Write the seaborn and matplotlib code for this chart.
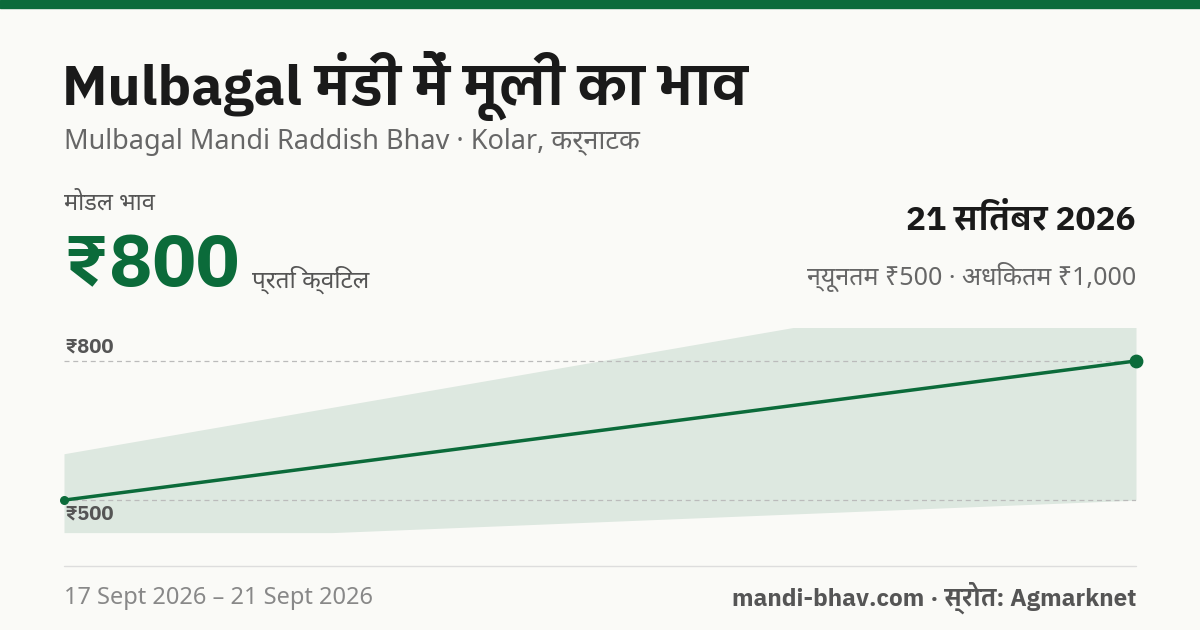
import matplotlib
matplotlib.use("Agg")
import matplotlib.pyplot as plt
import seaborn as sns
import pandas as pd
from matplotlib import font_manager as fm

sns.set_theme(style="white")
avail = {f.name for f in fm.fontManager.ttflist}
fams = [f for f in ["Noto Sans", "Noto Sans Devanagari", "IBM Plex Sans Devanagari", "DejaVu Sans"] if f in avail]
plt.rcParams['font.family'] = fams
BOLD = ["IBM Plex Sans Devanagari", "DejaVu Sans"]

line_days = [17, 21]
line_vals = [500, 800]
band_days = [17, 18, 21]
band_min = [430, 430, 500]
band_max = [600, 700, 1000]
tick_vals = [500, 800]
tick_labels = ["₹500", "₹800"]

GREEN = "#0b6b3a"
BG = "#fafaf7"
fig = plt.figure(figsize=(12, 6.3), dpi=100, facecolor=BG)
fig.add_artist(plt.Rectangle((0, 1 - 8/630), 1, 8/630, color=GREEN, transform=fig.transFigure))

ax = fig.add_axes([64/1200, 1 - 534/630, 1072/1200, 206/630])
ax.set_facecolor(BG)
ax.fill_between(band_days, band_min, band_max, color="#dde8e0", lw=0, zorder=1)
for v in tick_vals:
    ax.axhline(v, color="#bbbbbb", ls=(0, (4, 3)), lw=0.9, zorder=2)
df = pd.DataFrame({"d": line_days, "v": line_vals})
sns.lineplot(data=df, x="d", y="v", ax=ax, color=GREEN, lw=2.5, zorder=3)
ax.scatter([line_days[0]], [line_vals[0]], color=GREEN, s=30, zorder=5, clip_on=False)
ax.scatter([line_days[-1]], [line_vals[-1]], color=GREEN, s=80, zorder=5, clip_on=False)
ax.set_xlim(17, 21)
ax.set_ylim(427, 871)
ax.axis("off")
ax.text(17, 800 + 10, tick_labels[1], fontsize=14.5, fontweight="bold", family=BOLD, color="#555", va="bottom", zorder=6)
ax.text(17, 500 - 10, tick_labels[0], fontsize=14.5, fontweight="bold", family=BOLD, color="#555", va="top", zorder=6)

def t(x, y, s, **k):
    fig.text(x/1200, 1 - y/630, s, **k)

t(62, 86, "Mulbagal मंडी में मूली का भाव", fontsize=40, fontweight="bold", family=BOLD, color="#1a1a1a", va="center")
t(64, 142, "Mulbagal Mandi Raddish Bhav · Kolar, कर्नाटक", fontsize=19.5, color="#666", va="center")
t(64, 204, "मोडल भाव", fontsize=17, color="#555", va="center")
t(62, 266, "₹800", fontsize=52, fontweight="bold", family=BOLD, color=GREEN, va="center")
t(252, 280, "प्रति क्विंटल", fontsize=17.5, color="#555", va="center")
t(1136, 220, "21 सितंबर 2026", fontsize=24, fontweight="bold", family=BOLD, color="#1a1a1a", va="center", ha="right")
t(1136, 277, "न्यूनतम ₹500 · अधिकतम ₹1,000", fontsize=18, color="#666", va="center", ha="right")
fig.add_artist(plt.Line2D([64/1200, 1136/1200], [1 - 566/630]*2, color="#dddddd", lw=1))
t(64, 598, "17 Sept 2026 – 21 Sept 2026", fontsize=17, color="#888", va="center")
t(1136, 598, "mandi-bhav.com · स्रोत: Agmarknet", fontsize=17.5, fontweight="bold", family=BOLD, color="#555", va="center", ha="right")

fig.savefig("out.png", dpi=100, facecolor=BG)
